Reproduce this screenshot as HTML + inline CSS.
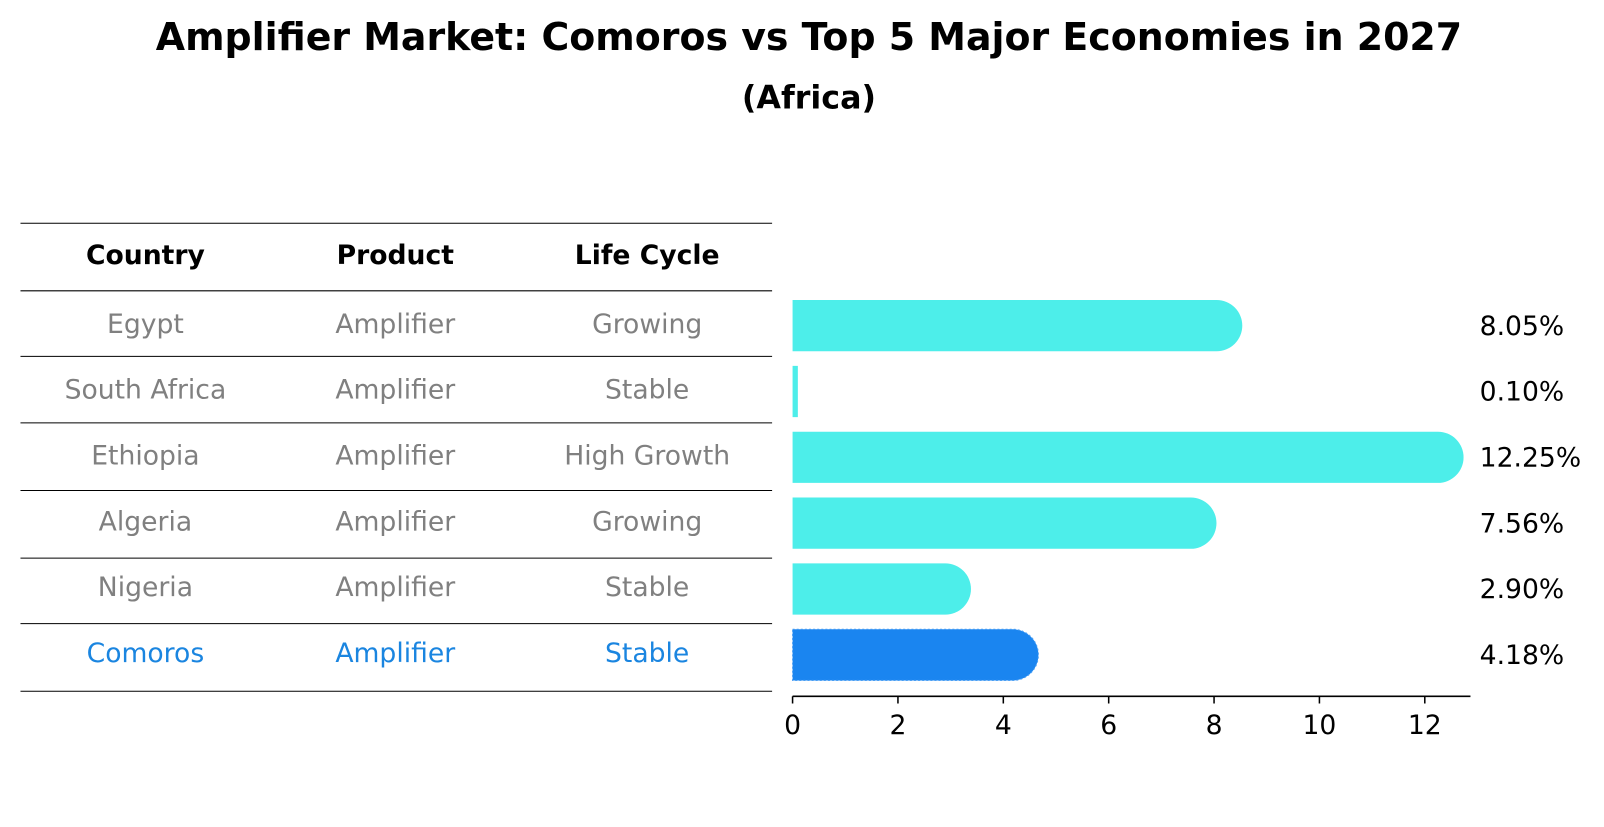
<!DOCTYPE html>
<html><head><meta charset="utf-8"><style>
body{margin:0;background:#fff;font-family:"DejaVu Sans","Liberation Sans",sans-serif;overflow:hidden;}
svg text{font-family:"DejaVu Sans","Liberation Sans",sans-serif;}
</style></head><body>
<svg id="chart" width="1604" height="823" xmlns="http://www.w3.org/2000/svg">
<g transform="scale(1.024)">
<text x="790" y="49" text-anchor="middle" font-size="37" font-weight="bold">Amplifier Market: Comoros vs Top 5 Major Economies in 2027</text>
<text x="790" y="106" text-anchor="middle" font-size="31" font-weight="bold">(Africa)</text>
<g id="table"></g>
<g id="bars"></g>
<g id="axis"></g>
</g>
</svg>
<script>
const countries=["Egypt","South Africa","Ethiopia","Algeria","Nigeria","Comoros"];
const products=["Amplifier","Amplifier","Amplifier","Amplifier","Amplifier","Amplifier"];
const cycles=["Growing","Stable","High Growth","Growing","Stable","Stable"];
const values=[8.05,0.10,12.25,7.56,2.90,4.18];
const ticks=[0,2,4,6,8,10,12];
const NS="http://www.w3.org/2000/svg";
function mk(t,a,p){const e=document.createElementNS(NS,t);for(const k in a)e.setAttribute(k,a[k]);p.appendChild(e);return e;}
const x0=774,unit=51.45;
const xs=v=>x0+v*unit;
const rowY=i=>316+i*64.3;
const tbl=document.getElementById('table');
const lines=[218,284,348,413,479,545,609,675];
lines.forEach((y,i)=>{const l=mk('line',{x1:20,x2:754,y1:y,y2:y,stroke:'#000','stroke-width':1},tbl);

});
const cols=[142,386,632];
["Country","Product","Life Cycle"].forEach((h,j)=>{const t=mk('text',{x:cols[j],y:258,'text-anchor':'middle','font-size':26,'font-weight':'bold'},tbl);t.textContent=h;

});
countries.forEach((c,i)=>{
 const col=i===5?'#1a85e0':'#808080';
 [c,products[i],cycles[i]].forEach((s,j)=>{const t=mk('text',{x:cols[j],y:rowY(i)+9,'text-anchor':'middle','font-size':26,fill:col},tbl);t.textContent=s;
 
 });
});
const bars=document.getElementById('bars');
values.forEach((v,i)=>{
 const yc=rowY(i)+2,h=50,r=25,xe=xs(v);
 const col=i===5?'#1a85f0':'#4deeea';
 let d;
 if(xe-x0<r){d=`M${x0},${yc-h/2}H${xe}V${yc+h/2}H${x0}Z`;}
 else d=`M${x0},${yc-h/2}H${xe}A${r},${r} 0 0 1 ${xe},${yc+h/2}H${x0}Z`;
 const p=mk('path',{d:d,fill:col},bars);
 if(i===5){p.setAttribute('stroke','#4a9ff5');p.setAttribute('stroke-dasharray','2,2');}
 
 
 const t=mk('text',{x:1445,y:yc+9,'font-size':26},bars);t.textContent=v.toFixed(2)+'%';
 
 
});
const ax=document.getElementById('axis');
const al=mk('line',{x1:x0,x2:1436,y1:680,y2:680,stroke:'#000','stroke-width':1.5},ax);


ticks.forEach(v=>{const l=mk('line',{x1:xs(v),x2:xs(v),y1:680,y2:687,stroke:'#000','stroke-width':1.5},ax);


const t=mk('text',{x:xs(v),y:717,'text-anchor':'middle','font-size':26},ax);t.textContent=v;

});
</script>
</body></html>
